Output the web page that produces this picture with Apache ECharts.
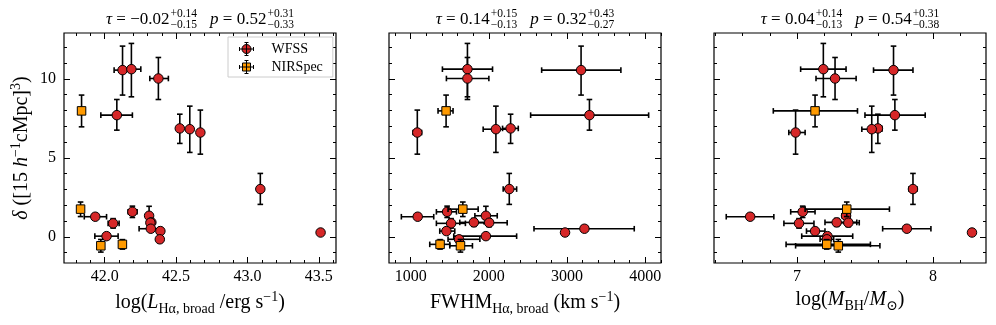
<!DOCTYPE html>
<html>
<head>
  <meta charset="utf-8">
  <title>delta vs broad Halpha properties</title>
  <script src="https://cdn.jsdelivr.net/npm/echarts@6.0.0/dist/echarts.min.js"></script>
  <style>
    html, body { margin: 0; padding: 0; background: #fff; }
    #main { width: 996px; height: 325px; }
  </style>
</head>
<body>
<div id="main"></div>
<script type="text/javascript">
// overdensity of each object (shared y of the three panels)
var deltaWFSS   = [10.55, 10.61, 10.02, 7.70, 6.86, 6.81, 6.60, 3.02, 1.27, 1.58, 1.33, 0.85, 0.91, 0.89, 0.51, 0.36, 0.04, -0.16, 0.27];
var deltaWFSSLo = [1.58, 1.75, 1.33, 0.95, 0.95, 1.47, 1.37, 0.97, 0.15, 0.36, 0.50, 0.30, 0.25, 0.25, 0.15, 0.20, 0.15, 0.15, 0];
var deltaWFSSHi = [1.52, 1.63, 1.33, 0.99, 0.90, 1.46, 1.42, 0.99, 0.15, 0.36, 0.60, 0.30, 0.25, 0.25, 0.15, 0.20, 0.15, 0.15, 0];
var deltaNIR   = [7.97, 1.75, -0.57, -0.48];
var deltaNIRLo = [1.01, 0.47, 0.40, 0.30];
var deltaNIRHi = [1.00, 0.45, 0.40, 0.30];

// panel 1 : log L(Ha, broad)
var lumWFSS   = [42.125, 42.187, 42.376, 42.085, 42.526, 42.596, 42.670, 43.090, 41.934, 42.194, 42.311, 42.059, 42.327, 42.320, 42.323, 42.390, 42.013, 42.386, 43.512];
var lumWFSSLo = [0.059, 0.062, 0.060, 0.112, 0.01, 0.01, 0.01, 0.01, 0.077, 0.030, 0.01, 0.035, 0.01, 0.01, 0.082, 0.01, 0.082, 0.01, 0];
var lumWFSSHi = [0.051, 0.066, 0.070, 0.109, 0.01, 0.01, 0.01, 0.01, 0.079, 0.033, 0.01, 0.042, 0.01, 0.01, 0.058, 0.01, 0.081, 0.01, 0];
var lumNIR   = [41.838, 41.831, 41.973, 42.124];
var lumNIRLo = [0.01, 0.015, 0.01, 0.01];
var lumNIRHi = [0.01, 0.015, 0.01, 0.01];

// panel 2 : FWHM (km/s)
var fwhmWFSS   = [3179, 1726, 1726, 3286, 2278, 2090, 1085, 2261, 1090, 1466, 1962, 1517, 1808, 2004, 3222, 1457, 1962, 1619, 2974];
var fwhmWFSSLo = [504, 320, 269, 752, 103, 163, 55, 78, 209, 137, 141, 188, 180, 154, 645, 85, 411, 141, 0];
var fwhmWFSSHi = [509, 321, 274, 757, 98, 157, 55, 94, 205, 120, 145, 183, 183, 230, 637, 107, 393, 266, 0];
var fwhmNIR   = [1453, 1667, 1637, 1376];
var fwhmNIRLo = [103, 189, 137, 132];
var fwhmNIRHi = [89, 196, 153, 124];

// panel 3 : log MBH
var mbhWFSS   = [7.710, 7.194, 7.280, 7.720, 7.595, 7.550, 6.990, 7.853, 6.656, 7.042, 7.361, 7.015, 7.292, 7.378, 7.808, 7.133, 7.224, 7.220, 8.287];
var mbhWFSSLo = [0.147, 0.167, 0.140, 0.220, 0.03, 0.073, 0.05, 0.03, 0.176, 0.088, 0.03, 0.111, 0.086, 0.06, 0.178, 0.063, 0.189, 0.05, 0];
var mbhWFSSHi = [0.143, 0.167, 0.155, 0.223, 0.03, 0.074, 0.07, 0.03, 0.174, 0.091, 0.03, 0.110, 0.148, 0.08, 0.177, 0.073, 0.186, 0.05, 0];
var mbhNIR   = [7.133, 7.366, 7.304, 7.219];
var mbhNIRLo = [0.307, 0.306, 0.314, 0.299];
var mbhNIRHi = [0.312, 0.314, 0.306, 0.321];

// ticks
var yMajor = [0, 5, 10];
var yMinor = [-1, 1, 2, 3, 4, 6, 7, 8, 9, 11, 12];
var lumMajor = [42.0, 42.5, 43.0, 43.5];
var lumMinor = [41.8, 41.9, 42.1, 42.2, 42.3, 42.4, 42.6, 42.7, 42.8, 42.9, 43.1, 43.2, 43.3, 43.4, 43.6];
var fwhmMajor = [1000, 2000, 3000, 4000];
var fwhmMinor = [800, 1200, 1400, 1600, 1800, 2200, 2400, 2600, 2800, 3200, 3400, 3600, 3800, 4200];
var mbhMajor = [7, 8];
var mbhMinor = [6.4, 6.6, 6.8, 7.2, 7.4, 7.6, 7.8, 8.2];

// Kendall tau and p (value, +err, -err)
var tauStats = [['\u22120.02', '+0.14', '\u22120.15'], ['0.14', '+0.15', '\u22120.13'], ['0.04', '+0.14', '\u22120.13']];
var pStats   = [['0.52', '+0.31', '\u22120.33'], ['0.32', '+0.43', '\u22120.27'], ['0.54', '+0.31', '\u22120.38']];

var SERIF = '"Liberation Serif", "Times New Roman", "DejaVu Serif", serif';
var RED = '#d62728';
var ORANGE = '#ff9a00';

var panels = [
  { left: 64,  min: 41.715, max: 43.62, major: lumMajor, minor: lumMinor, fmt: function (v) { return v.toFixed(1); },
    xw: lumWFSS, xwLo: lumWFSSLo, xwHi: lumWFSSHi, xn: lumNIR, xnLo: lumNIRLo, xnHi: lumNIRHi,
    name: '{n|log(}{i|L}{s|H\u03b1, broad}{n| /erg s}{p|\u22121}{n|)}' },
  { left: 389, min: 723, max: 4201, major: fwhmMajor, minor: fwhmMinor, fmt: function (v) { return String(v); },
    xw: fwhmWFSS, xwLo: fwhmWFSSLo, xwHi: fwhmWFSSHi, xn: fwhmNIR, xnLo: fwhmNIRLo, xnHi: fwhmNIRHi,
    name: '{n|FWHM}{s|H\u03b1, broad}{n| (km s}{p|\u22121}{n|)}' },
  { left: 714, min: 6.39, max: 8.39, major: mbhMajor, minor: mbhMinor, fmt: function (v) { return String(v); },
    xw: mbhWFSS, xwLo: mbhWFSSLo, xwHi: mbhWFSSHi, xn: mbhNIR, xnLo: mbhNIRLo, xnHi: mbhNIRHi,
    name: '{n|log(}{i|M}{s|BH}{n|/}{i|M}{s|\u2299}{n|)}' }
];
var GRID_TOP = 33, GRID_W = 272, GRID_H = 230;
var Y_MIN = -1.66, Y_MAX = 12.9;

var nameRich = {
  n: { fontFamily: SERIF, fontSize: 20, color: '#000', lineHeight: 26, verticalAlign: 'middle' },
  i: { fontFamily: SERIF, fontSize: 20, fontStyle: 'italic', color: '#000', lineHeight: 26, verticalAlign: 'middle' },
  s: { fontFamily: SERIF, fontSize: 14, color: '#000', lineHeight: 17, verticalAlign: 'bottom' },
  p: { fontFamily: SERIF, fontSize: 14, color: '#000', lineHeight: 17, verticalAlign: 'top' }
};

function axisPair(g, min, max, major, minor, side, label) {
  var tickStyle = { color: '#000', width: 1 };
  var base = { type: 'value', gridIndex: g, min: min, max: max, position: side,
    axisLine: { show: false, onZero: false }, splitLine: { show: false } };
  var majorAxis = Object.assign({}, base, {
    axisTick: { show: true, inside: true, length: 6, customValues: major, lineStyle: tickStyle },
    axisLabel: label ? Object.assign({ customValues: major }, label) : { show: false }
  });
  var minorAxis = Object.assign({}, base, {
    axisTick: { show: true, inside: true, length: 3, customValues: minor, lineStyle: tickStyle },
    axisLabel: { show: false }
  });
  return [majorAxis, minorAxis];
}

var xAxes = [], yAxes = [], grids = [], series = [];

function errData(x, xLo, xHi, y, yLo, yHi) {
  return x.map(function (v, i) {
    return [v, y[i], v - xLo[i], v + xHi[i], y[i] - yLo[i], y[i] + yHi[i]];
  });
}

function renderErr(params, api) {
  var x = api.value(0), y = api.value(1);
  var xl = api.value(2), xh = api.value(3), yl = api.value(4), yh = api.value(5);
  var st = { stroke: '#000', lineWidth: 1.6 };
  var cap = 2.8;
  var kids = [];
  if (xh > xl) {
    var a = api.coord([xl, y]), b = api.coord([xh, y]);
    kids.push({ type: 'line', shape: { x1: a[0], y1: a[1], x2: b[0], y2: b[1] }, style: st });
    kids.push({ type: 'line', shape: { x1: a[0], y1: a[1] - cap, x2: a[0], y2: a[1] + cap }, style: st });
    kids.push({ type: 'line', shape: { x1: b[0], y1: b[1] - cap, x2: b[0], y2: b[1] + cap }, style: st });
  }
  if (yh > yl) {
    var d = api.coord([x, yl]), e = api.coord([x, yh]);
    kids.push({ type: 'line', shape: { x1: d[0], y1: d[1], x2: e[0], y2: e[1] }, style: st });
    kids.push({ type: 'line', shape: { x1: d[0] - cap, y1: d[1], x2: d[0] + cap, y2: d[1] }, style: st });
    kids.push({ type: 'line', shape: { x1: e[0] - cap, y1: e[1], x2: e[0] + cap, y2: e[1] }, style: st });
  }
  return { type: 'group', children: kids };
}

panels.forEach(function (p, g) {
  grids.push({ left: p.left, top: GRID_TOP, width: GRID_W, height: GRID_H, show: true,
    borderColor: '#000', borderWidth: 1.2, backgroundColor: 'transparent', containLabel: false });

  var xl = { show: true, formatter: p.fmt, color: '#000', fontFamily: SERIF, fontSize: 16, margin: 6 };
  var xb = axisPair(g, p.min, p.max, p.major, p.minor, 'bottom', xl);
  xb[0].name = p.name;
  xb[0].nameLocation = 'middle';
  xb[0].nameGap = 24;
  xb[0].nameTextStyle = { rich: nameRich };
  var xt = axisPair(g, p.min, p.max, p.major, p.minor, 'top', null);
  xAxes.push(xb[0], xb[1], xt[0], xt[1]);

  var yl = g === 0 ? { show: true, color: '#000', fontFamily: SERIF, fontSize: 16, margin: 8 } : null;
  var yb = axisPair(g, Y_MIN, Y_MAX, yMajor, yMinor, 'left', yl);
  if (g === 0) {
    yb[0].name = '{i|\u03b4}{n| ([15 }{i|h}{p|\u22121}{n|cMpc]}{p|3}{n|)}';
    yb[0].nameLocation = 'middle';
    yb[0].nameRotate = 90;
    yb[0].nameGap = 29;
    yb[0].nameTextStyle = { rich: nameRich };
  }
  var yr = axisPair(g, Y_MIN, Y_MAX, yMajor, yMinor, 'right', null);
  yAxes.push(yb[0], yb[1], yr[0], yr[1]);

  var ax = g * 4;
  series.push({
    type: 'custom', name: 'errW' + g, xAxisIndex: ax, yAxisIndex: ax, silent: true, z: 2,
    renderItem: renderErr, encode: { x: 0, y: 1 },
    data: errData(p.xw, p.xwLo, p.xwHi, deltaWFSS, deltaWFSSLo, deltaWFSSHi)
  });
  series.push({
    type: 'scatter', name: 'WFSS', xAxisIndex: ax, yAxisIndex: ax, z: 3,
    symbol: 'circle', symbolSize: 9.5,
    itemStyle: { color: RED, borderColor: '#000', borderWidth: 1, opacity: 1 },
    data: p.xw.map(function (v, i) { return [v, deltaWFSS[i]]; })
  });
  series.push({
    type: 'custom', name: 'errN' + g, xAxisIndex: ax, yAxisIndex: ax, silent: true, z: 4,
    renderItem: renderErr, encode: { x: 0, y: 1 },
    data: errData(p.xn, p.xnLo, p.xnHi, deltaNIR, deltaNIRLo, deltaNIRHi)
  });
  series.push({
    type: 'scatter', name: 'NIRSpec', xAxisIndex: ax, yAxisIndex: ax, z: 5,
    symbol: 'rect', symbolSize: 8.5,
    itemStyle: { color: ORANGE, borderColor: '#000', borderWidth: 1, opacity: 1 },
    data: p.xn.map(function (v, i) { return [v, deltaNIR[i]]; })
  });
});

// panel titles built from text pieces (main + stacked super/subscripts)
var ctx = document.createElement('canvas').getContext('2d');
function tw(text, font) { ctx.font = font; return ctx.measureText(text).width; }
var F_MAIN = '17px ' + SERIF, F_IT = 'italic 17px ' + SERIF, F_SM = '11.5px ' + SERIF;
var graphics = [];
function addText(x, y, text, font) {
  graphics.push({ type: 'text', x: x, y: y, silent: true,
    style: { text: text, font: font, fill: '#000', align: 'left', verticalAlign: 'middle' } });
}
panels.forEach(function (p, g) {
  var cx = p.left + GRID_W / 2, cy = 19.5;
  var parts = [
    ['\u03c4', F_IT], [' = ' + tauStats[g][0], F_MAIN], ['stack', tauStats[g]],
    ['gap'], ['p', F_IT], [' = ' + pStats[g][0], F_MAIN], ['stack', pStats[g]]
  ];
  var widths = parts.map(function (q) {
    if (q[0] === 'gap') return 13;
    if (q[0] === 'stack') return 1 + Math.max(tw(q[1][1], F_SM), tw(q[1][2], F_SM));
    return tw(q[0], q[1]);
  });
  var total = widths.reduce(function (s, w) { return s + w; }, 0);
  var x = cx - total / 2;
  parts.forEach(function (q, k) {
    if (q[0] === 'stack') {
      addText(x + 1, cy - 6, q[1][1], F_SM);
      addText(x + 1, cy + 5.5, q[1][2], F_SM);
    } else if (q[0] !== 'gap') {
      addText(x, cy, q[0], q[1]);
    }
    x += widths[k];
  });
});

var legendW = 'path://M0,6.5L14,6.5M0,4.5L0,8.5M14,4.5L14,8.5M7,0L7,13M5,0L9,0M5,13L9,13M11.5,6.5A4.5,4.5,0,1,1,2.5,6.5A4.5,4.5,0,1,1,11.5,6.5Z';
var legendN = 'path://M0,6.5L14,6.5M0,4.5L0,8.5M14,4.5L14,8.5M7,0L7,13M5,0L9,0M5,13L9,13M3,2.5L11,2.5L11,10.5L3,10.5Z';

var myChart = echarts.init(document.getElementById('main'), null, { renderer: 'canvas' });
myChart.setOption({
  animation: false,
  backgroundColor: '#fff',
  grid: grids,
  xAxis: xAxes,
  yAxis: yAxes,
  legend: {
    data: [{ name: 'WFSS', icon: legendW }, { name: 'NIRSpec', icon: legendN }],
    orient: 'vertical', left: 228, top: 37,
    itemWidth: 14, itemHeight: 13, itemGap: 4,
    padding: [5, 10, 3, 11],
    borderColor: '#cccccc', borderWidth: 1, borderRadius: 0, backgroundColor: '#fff',
    itemStyle: { borderColor: '#000', borderWidth: 1 },
    formatter: function (name) { return '{g|}' + name; },
    textStyle: { fontFamily: SERIF, fontSize: 14, color: '#000', rich: { g: { width: 13 } } },
    selectedMode: false
  },
  graphic: graphics,
  series: series
});
</script>
</body>
</html>
